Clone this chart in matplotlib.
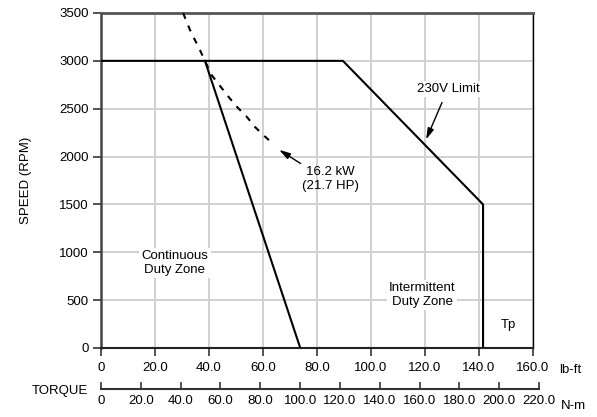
import matplotlib
matplotlib.use("Agg")
import matplotlib.pyplot as plt

plt.rcParams['font.family'] = ['Liberation Sans', 'DejaVu Sans']
plt.rcParams['font.size'] = 9.5

# torque in lb-ft, speed in rpm
limit_torque = [0, 89.6, 141.5, 141.5]
limit_speed = [3000, 3000, 1500, 0]

cont_torque = [38.5, 73.8]
cont_speed = [3000, 0]

power_torque = [30.4, 33.0, 36.7, 38.5, 41.0, 47.2, 50.5, 54.0, 57.0, 60.7, 63.8]
power_speed = [3500, 3320, 3110, 3000, 2850, 2625, 2515, 2415, 2310, 2210, 2130]

lbft_ticks = [0, 20, 40, 60, 80, 100, 120, 140, 160]
nm_ticks = [0, 20, 40, 60, 80, 100, 120, 140, 160, 180, 200, 220]
speed_ticks = [0, 500, 1000, 1500, 2000, 2500, 3000, 3500]

NM_PER_LBFT = 1.35582


def fmt(v):
    return "0" if v == 0 else "%.1f" % v


fig = plt.figure(figsize=(5.97, 4.17), dpi=100)
W, H = 597.0, 417.0
ax = fig.add_axes([101 / W, 1 - 348 / H, 432 / W, 335 / H])

ax.set_xlim(0, 160)
ax.set_ylim(0, 3500)
ax.set_xticks(lbft_ticks)
ax.set_xticklabels([fmt(v) for v in lbft_ticks])
ax.set_yticks(speed_ticks)
ax.grid(True, color="#d0d0d0", linewidth=1.4, zorder=0)
ax.set_axisbelow(True)
ax.tick_params(axis="both", direction="out", length=6, width=1.2, color="#333333", pad=3)
ax.tick_params(axis="x", pad=4)

ax.spines["top"].set_color("#555555")
ax.spines["top"].set_linewidth(2)
ax.spines["left"].set_color("#444444")
ax.spines["left"].set_linewidth(1.8)
ax.spines["bottom"].set_color("#222222")
ax.spines["bottom"].set_linewidth(1.5)
ax.spines["right"].set_color("black")
ax.spines["right"].set_linewidth(1.0)

ax.plot(limit_torque, limit_speed, color="black", linewidth=1.5, zorder=3)
ax.plot(cont_torque, cont_speed, color="black", linewidth=1.5, zorder=3)
ax.plot(power_torque, power_speed, color="black", linewidth=1.5,
        linestyle=(0, (3, 3.5)), zorder=3, clip_on=False)

ax.set_ylabel("SPEED (RPM)", labelpad=19)

box = dict(facecolor="white", edgecolor="none", pad=1.5)
ax.text(27.4, 888, "Continuous\nDuty Zone", ha="center", va="center",
        linespacing=1.3, bbox=box, zorder=4)
ax.text(118.9, 554, "Intermittent\nDuty Zone", ha="center", va="center",
        linespacing=1.3, bbox=box, zorder=4)
ax.text(150.7, 240, "Tp", ha="center", va="center", bbox=box, zorder=4)

ax.annotate("", xy=(65.1, 2086), xytext=(74.8, 1912),
            arrowprops=dict(arrowstyle="-|>,head_length=0.7,head_width=0.2",
                            color="black", linewidth=1.0), zorder=5)
ax.text(84.8, 1766, "16.2 kW\n(21.7 HP)", ha="center", va="center",
        linespacing=1.3, zorder=5)

ax.annotate("", xy=(120.0, 2152), xytext=(126.7, 2591),
            arrowprops=dict(arrowstyle="-|>,head_length=0.7,head_width=0.2",
                            color="black", linewidth=1.0), zorder=5)
ax.text(128.5, 2706, "230V Limit", ha="center", va="center", bbox=box, zorder=5)

ax.annotate("lb-ft", xy=(160, 0), xycoords=("data", "axes fraction"),
            xytext=(19, -16), textcoords="offset points", ha="left", va="center")

# second torque scale in N-m
nm_max = 220
ax2 = fig.add_axes([101 / W, 1 - 389 / H, 432 / W * (nm_max / NM_PER_LBFT) / 160, 0.0001])
ax2.set_xlim(0, nm_max)
ax2.set_yticks([])
for s in ["top", "left", "right"]:
    ax2.spines[s].set_visible(False)
ax2.spines["bottom"].set_color("#333333")
ax2.spines["bottom"].set_linewidth(1.5)
ax2.set_xticks(nm_ticks)
ax2.set_xticklabels([fmt(v) for v in nm_ticks])
ax2.tick_params(axis="x", direction="in", length=5, width=1.2, color="#333333", pad=4)
ax2.patch.set_visible(False)
ax2.annotate("N-m", xy=(nm_max, 0), xycoords=("data", "axes fraction"),
             xytext=(16, -12), textcoords="offset points", ha="left", va="center")

fig.text(88 / W, 1 - 391 / H, "TORQUE", ha="right", va="center")

fig.savefig("out.png", dpi=100)
